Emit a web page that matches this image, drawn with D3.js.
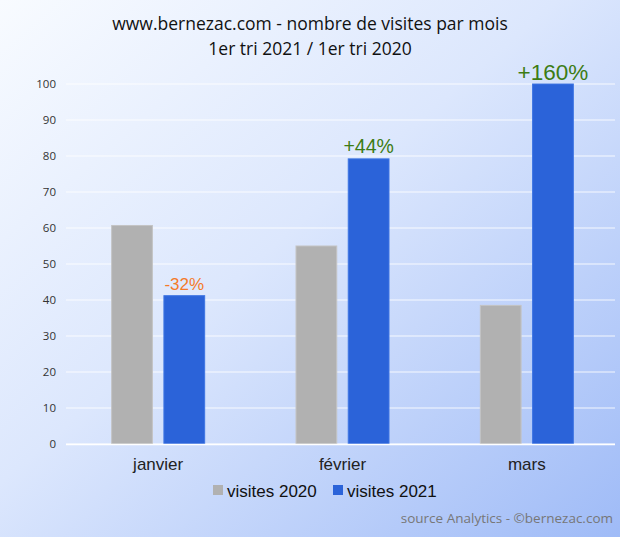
<!DOCTYPE html>
<html><head><meta charset="utf-8">
<script src="https://cdn.jsdelivr.net/npm/d3@7"></script>
<style>html,body{margin:0;padding:0;background:#fff}svg{display:block}</style>
</head><body>
<svg id="c" width="620" height="537"></svg>
<script>
const categories = ["janvier", "février", "mars"];
const series = ["visites 2020", "visites 2021"];
const values2020 = [60.7, 55, 38.5];
const values2021 = [41.2, 79.2, 100];
const changeLabels = ["-32%", "+44%", "+160%"];
const yTicks = [0,10,20,30,40,50,60,70,80,90,100];

const svg = d3.select("#c");
const W = 620, H = 537;
const defs = svg.append("defs");
const g = defs.append("linearGradient").attr("id","bg").attr("x1","0").attr("y1","0").attr("x2","1").attr("y2","1");
g.append("stop").attr("offset","0%").attr("stop-color","#f8fbff");
g.append("stop").attr("offset","45%").attr("stop-color","#dce7fd");
g.append("stop").attr("offset","100%").attr("stop-color","#9fbbf7");
svg.append("rect").attr("width",W).attr("height",H).attr("fill","url(#bg)");

const x0 = d3.scaleBand().domain(categories).range([66, 619]).paddingInner(0).paddingOuter(0);
const x1 = d3.scaleBand().domain(series).range([x0.bandwidth()/2 - 46.5, x0.bandwidth()/2 + 46.5]).paddingInner(0.22).paddingOuter(0);
const y = d3.scaleLinear().domain([0,100]).range([444, 84]);

// gridlines
svg.append("g").selectAll("line").data(yTicks).join("line")
  .attr("x1",66).attr("x2",615).attr("y1",d=>y(d)).attr("y2",d=>y(d))
  .attr("stroke","#ffffff").attr("stroke-opacity",0.85).attr("stroke-width",1.2);

// y axis labels
const yAxis = d3.axisLeft(y).tickValues(yTicks).tickSize(0).tickPadding(0);
const ya = svg.append("g").attr("transform","translate(56,0)").call(yAxis);
ya.select(".domain").remove();
ya.selectAll("text").attr("font-family","'Open Sans', sans-serif").attr("font-size",11.5).attr("fill","#333");

const colors = {"visites 2020":"#b1b1b1","visites 2021":"#2b63d9"};
const strokes = {"visites 2020":"#c4c4c4","visites 2021":"#3e75e3"};
const rows = categories.map((c,i)=>({cat:c, vals:[{s:series[0],v:values2020[i]},{s:series[1],v:values2021[i]}], lab:changeLabels[i]}));

const grp = svg.append("g").selectAll("g").data(rows).join("g")
  .attr("transform",d=>`translate(${x0(d.cat)},0)`);
grp.selectAll("rect").data(d=>d.vals).join("rect")
  .attr("x",d=>x1(d.s)).attr("width",x1.bandwidth())
  .attr("y",d=>y(d.v)).attr("height",d=>y(0)-y(d.v))
  .attr("fill",d=>colors[d.s]).attr("stroke",d=>strokes[d.s]).attr("stroke-width",1);

// change labels
const labStyle = [{c:"#f47a2a",s:17,o:6},{c:"#3d7c14",s:19.5,o:6},{c:"#3d7c14",s:22.5,o:4}];
grp.append("text")
  .attr("x",d=>x1(series[1])+x1.bandwidth()/2)
  .attr("y",(d,i)=>y(d.vals[1].v)-labStyle[i].o)
  .attr("text-anchor","middle")
  .attr("font-family","'Liberation Sans', Arial, sans-serif")
  .attr("font-size",(d,i)=>labStyle[i].s)
  .attr("fill",(d,i)=>labStyle[i].c)
  .text(d=>d.lab);

// x axis line
svg.append("line").attr("x1",66).attr("x2",615).attr("y1",444.5).attr("y2",444.5).attr("stroke","#ffffff").attr("stroke-width",1.5);

// x labels
const xAxis = d3.axisBottom(x0).tickSize(0).tickPadding(0);
const xa = svg.append("g").attr("transform","translate(0,458)").call(xAxis);
xa.select(".domain").remove();
xa.selectAll("text").attr("font-family","'Liberation Sans', Arial, sans-serif").attr("font-size",17).attr("fill","#222").attr("dy","0.71em");

// title
const title = svg.append("text").attr("text-anchor","middle").attr("font-family","'Open Sans', sans-serif").attr("font-size",17.5).attr("fill","#111");
title.append("tspan").attr("x",310).attr("y",30).text("www.bernezac.com - nombre de visites par mois");
title.append("tspan").attr("x",310).attr("y",55).text("1er tri 2021 / 1er tri 2020");

// legend
const legX = [213, 333];
const leg = svg.append("g").selectAll("g").data(series).join("g").attr("transform",(d,i)=>`translate(${legX[i]},491)`);
leg.append("rect").attr("x",0).attr("y",-6).attr("width",10).attr("height",10).attr("fill",d=>colors[d]);
leg.append("text").attr("x",14).attr("y",6).attr("font-family","'Liberation Sans', Arial, sans-serif").attr("font-size",17).attr("fill","#111").text(d=>d);

// source
svg.append("text").attr("x",613).attr("y",523).attr("text-anchor","end").attr("font-family","'Open Sans', sans-serif").attr("font-size",13.5).attr("fill","#777").text("source Analytics - ©bernezac.com");
</script>
</body></html>
